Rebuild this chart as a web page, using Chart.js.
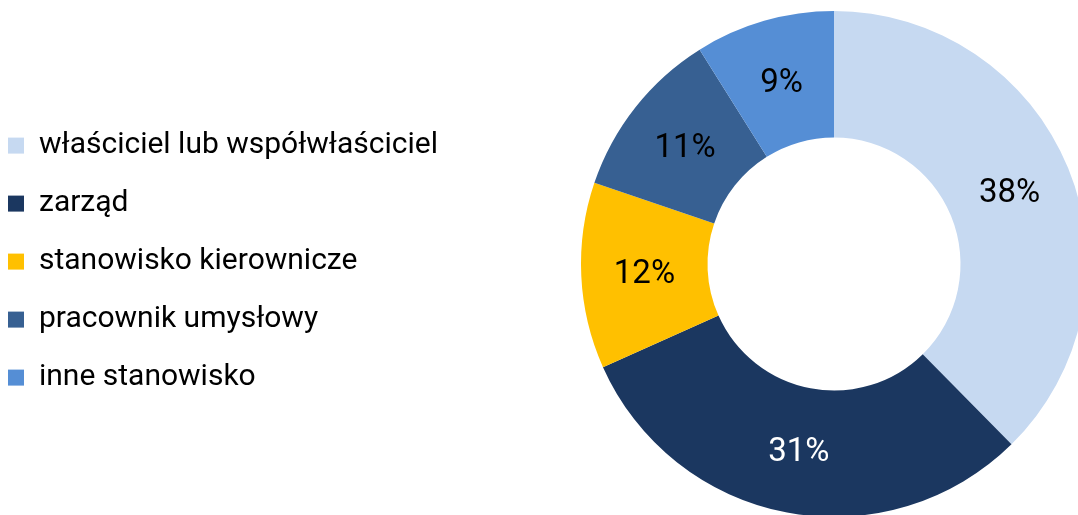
<!DOCTYPE html>
<html>
<head>
<meta charset="utf-8">
<script src="https://cdn.jsdelivr.net/npm/chart.js@4"></script>
<style>
    html, body { margin: 0; padding: 0; background: #fff; overflow: hidden; }
    #wrap { position: relative; width: 1078px; height: 515px; overflow: hidden; }
    #chart { position: absolute; left: -20px; top: 0; }
</style>
</head>
<body>
<div id="wrap">
    <canvas id="chart" width="1708" height="520"></canvas>
</div>
<script>
const categories = ["właściciel lub współwłaściciel", "zarząd", "stanowisko kierownicze", "pracownik umysłowy", "inne stanowisko"];
const shares = [38, 31, 12, 11, 9];
const sliceColors = ["#C6D9F1", "#1B3760", "#FFC000", "#376092", "#558ED5"];
const labelColors = ["#000", "#fff", "#000", "#000", "#000"];

// draws the percentage in the middle of each ring segment
const sliceLabels = {
    id: "sliceLabels",
    afterDatasetsDraw(chart)
    {
        const ctx = chart.ctx;
        const meta = chart.getDatasetMeta(0);

        ctx.save();
        ctx.font = "33px Roboto";
        ctx.textAlign = "center";
        ctx.textBaseline = "middle";

        meta.data.forEach((arc, i) =>
        {
            const pos = arc.tooltipPosition();
            ctx.fillStyle = labelColors[i];
            ctx.fillText(shares[i] + "%", pos.x, pos.y + 2);
        });
        ctx.restore();
    }
};

new Chart(document.getElementById("chart"), {
    type: "doughnut",
    data: {
        labels: categories,
        datasets: [{
            data: shares,
            backgroundColor: sliceColors,
            borderWidth: 0
        }]
    },
    options: {
        responsive: false,
        animation: false,
        cutout: "50%",
        layout: { padding: { top: 11, bottom: 3, left: 0, right: 0 } },
        plugins: {
            legend: {
                position: "chartArea",
                align: "center",
                // empty title only nudges the list down a little
                title: { display: true, text: "", font: { size: 1 }, padding: 8 },
                labels: {
                    boxWidth: 16,
                    boxHeight: 16,
                    padding: 28,
                    color: "#000",
                    font: { family: "Roboto", size: 30 }
                }
            },
            tooltip: { enabled: false }
        }
    },
    plugins: [sliceLabels]
});
</script>
</body>
</html>
